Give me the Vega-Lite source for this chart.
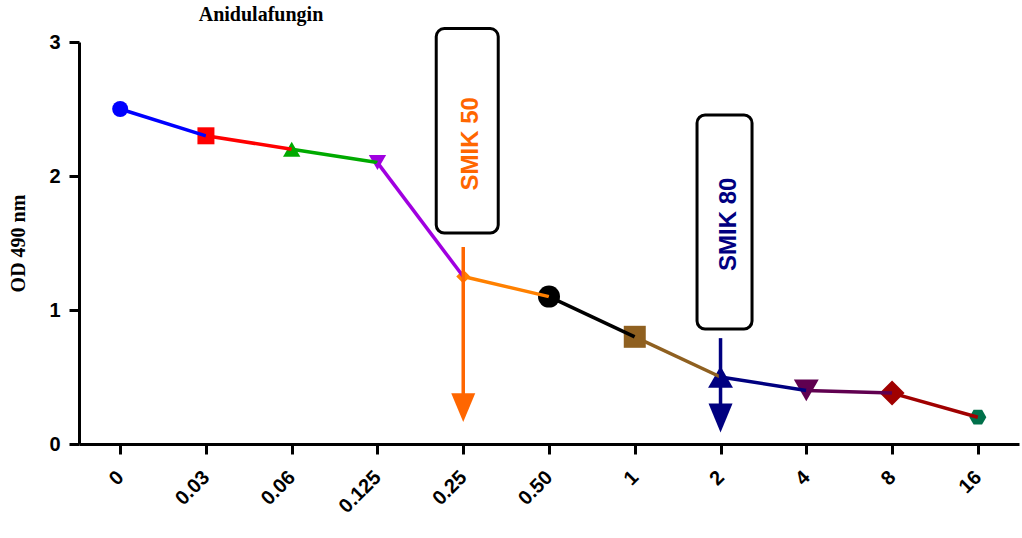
{
  "$schema": "https://vega.github.io/schema/vega-lite/v6.json",
  "autosize": {"type": "none"},
  "width": 940,
  "height": 402,
  "padding": {"left": 79, "top": 42, "right": 3, "bottom": 94},
  "background": "white",
  "title": {
    "text": "Anidulafungin",
    "anchor": "start",
    "align": "center",
    "frame": "group",
    "dx": 182,
    "offset": -14,
    "baseline": "alphabetic",
    "font": "Liberation Serif",
    "fontSize": 20,
    "fontWeight": "bold",
    "color": "black"
  },
  "datasets": {
    "points": [
      {"conc": "0", "od": 2.5},
      {"conc": "0.03", "od": 2.3},
      {"conc": "0.06", "od": 2.2},
      {"conc": "0.125", "od": 2.1},
      {"conc": "0.25", "od": 1.25},
      {"conc": "0.50", "od": 1.1},
      {"conc": "1", "od": 0.8},
      {"conc": "2", "od": 0.5},
      {"conc": "4", "od": 0.4},
      {"conc": "8", "od": 0.38},
      {"conc": "16", "od": 0.2}
    ],
    "segments": [
      {"conc": "0", "od": 2.5, "to": "0.03", "od_to": 2.3},
      {"conc": "0.03", "od": 2.3, "to": "0.06", "od_to": 2.2},
      {"conc": "0.06", "od": 2.2, "to": "0.125", "od_to": 2.1},
      {"conc": "0.125", "od": 2.1, "to": "0.25", "od_to": 1.25},
      {"conc": "0.25", "od": 1.25, "to": "0.50", "od_to": 1.1},
      {"conc": "0.50", "od": 1.1, "to": "1", "od_to": 0.8},
      {"conc": "1", "od": 0.8, "to": "2", "od_to": 0.5},
      {"conc": "2", "od": 0.5, "to": "4", "od_to": 0.4},
      {"conc": "4", "od": 0.4, "to": "8", "od_to": 0.38},
      {"conc": "8", "od": 0.38, "to": "16", "od_to": 0.2}
    ],
    "smik": [
      {"label": "SMIK 50", "conc": "0.25", "box_top": 3.1, "box_bottom": 1.575, "text_y": 2.24, "shaft_top": 1.47, "head": 0.272},
      {"label": "SMIK 80", "conc": "2", "box_top": 2.455, "box_bottom": 0.858, "text_y": 1.64, "shaft_top": 0.79, "head": 0.194}
    ]
  },
  "encoding": {
    "x": {
      "field": "conc",
      "type": "nominal",
      "sort": null,
      "scale": {
        "type": "point",
        "domain": ["0", "0.03", "0.06", "0.125", "0.25", "0.50", "1", "2", "4", "8", "16"],
        "padding": 0.48
      },
      "axis": {
        "title": null,
        "labelAngle": -45,
        "labelAlign": "right",
        "labelBaseline": "middle",
        "labelPadding": 20,
        "labelFontSize": 20
      }
    }
  },
  "layer": [
    {
      "data": {"name": "points"},
      "mark": {"type": "point", "filled": true, "opacity": 1},
      "encoding": {
        "y": {
          "field": "od",
          "type": "quantitative",
          "scale": {"domain": [0, 3], "nice": false, "zero": true},
          "axis": {
            "title": "OD 490 nm",
            "values": [0, 1, 2, 3],
            "format": "d",
            "labelFontSize": 20,
            "labelPadding": 9,
            "titleFont": "Liberation Serif",
            "titleFontSize": 20,
            "titleFontWeight": "bold",
            "titlePadding": 20
          }
        },
        "color": {
          "field": "conc",
          "type": "nominal",
          "scale": {
            "domain": ["0", "0.03", "0.06", "0.125", "0.25", "0.50", "1", "2", "4", "8", "16"],
            "range": ["#0000ff", "#ff0000", "#00aa00", "#a000e0", "#ff8000", "#000000", "#8f6020", "#000080", "#600050", "#a00000", "#00704a"]
          },
          "legend": null
        },
        "shape": {
          "field": "conc",
          "type": "nominal",
          "scale": {
            "domain": ["0", "0.03", "0.06", "0.125", "0.25", "0.50", "1", "2", "4", "8", "16"],
            "range": ["circle", "square", "triangle-up", "triangle-down", "diamond", "circle", "square", "triangle-up", "triangle-down", "diamond", "M-1,0L-0.5,-0.87L0.5,-0.87L1,0L0.5,0.87L-0.5,0.87Z"]
          },
          "legend": null
        },
        "size": {
          "field": "conc",
          "type": "nominal",
          "scale": {
            "type": "ordinal",
            "domain": ["0", "0.03", "0.06", "0.125", "0.25", "0.50", "1", "2", "4", "8", "16"],
            "range": [256, 289, 300, 300, 196, 484, 484, 620, 620, 625, 289]
          },
          "legend": null
        }
      }
    },
    {
      "data": {"name": "segments"},
      "mark": {"type": "rule", "strokeWidth": 3.5},
      "encoding": {
        "x2": {"field": "to"},
        "y": {"field": "od", "type": "quantitative"},
        "y2": {"field": "od_to"},
        "color": {
          "field": "conc",
          "type": "nominal",
          "scale": {
            "domain": ["0", "0.03", "0.06", "0.125", "0.25", "0.50", "1", "2", "4", "8", "16"],
            "range": ["#0000ff", "#ff0000", "#00aa00", "#a000e0", "#ff8000", "#000000", "#8f6020", "#000080", "#600050", "#a00000", "#00704a"]
          },
          "legend": null
        }
      }
    },
    {
      "data": {"name": "smik"},
      "mark": {"type": "bar", "fill": "white", "stroke": "black", "strokeWidth": 3, "cornerRadius": 8, "xOffset": 4},
      "encoding": {
        "y": {"field": "box_top", "type": "quantitative"},
        "y2": {"field": "box_bottom"},
        "size": {
          "field": "label",
          "type": "nominal",
          "scale": {"type": "ordinal", "domain": ["SMIK 50", "SMIK 80"], "range": [62, 55]},
          "legend": null
        }
      }
    },
    {
      "data": {"name": "smik"},
      "mark": {"type": "text", "angle": 270, "align": "center", "baseline": "middle", "dy": 8, "font": "Liberation Sans", "fontWeight": "bold", "fontSize": 24},
      "encoding": {
        "y": {"field": "text_y", "type": "quantitative"},
        "text": {"field": "label"},
        "color": {
          "field": "label",
          "type": "nominal",
          "scale": {"domain": ["SMIK 50", "SMIK 80"], "range": ["#ff6600", "#000080"]},
          "legend": null
        }
      }
    },
    {
      "data": {"name": "smik"},
      "mark": {"type": "rule", "strokeWidth": 3.5},
      "encoding": {
        "y": {"field": "shaft_top", "type": "quantitative"},
        "y2": {"field": "head"},
        "color": {
          "field": "label",
          "type": "nominal",
          "scale": {"domain": ["SMIK 50", "SMIK 80"], "range": ["#ff6600", "#000080"]},
          "legend": null
        }
      }
    },
    {
      "data": {"name": "smik"},
      "mark": {"type": "point", "filled": true, "opacity": 1, "shape": "M-1,-1.2L1,-1.2L0,1.2Z", "size": 576},
      "encoding": {
        "y": {"field": "head", "type": "quantitative"},
        "color": {
          "field": "label",
          "type": "nominal",
          "scale": {"domain": ["SMIK 50", "SMIK 80"], "range": ["#ff6600", "#000080"]},
          "legend": null
        }
      }
    }
  ],
  "resolve": {"scale": {"color": "independent", "size": "independent"}},
  "config": {
    "view": {"stroke": null},
    "axis": {
      "grid": false,
      "domainColor": "black",
      "domainWidth": 3,
      "tickColor": "black",
      "tickWidth": 3,
      "tickSize": 10,
      "labelFont": "Liberation Sans",
      "labelFontWeight": "bold",
      "labelColor": "black",
      "titleColor": "black"
    }
  }
}
